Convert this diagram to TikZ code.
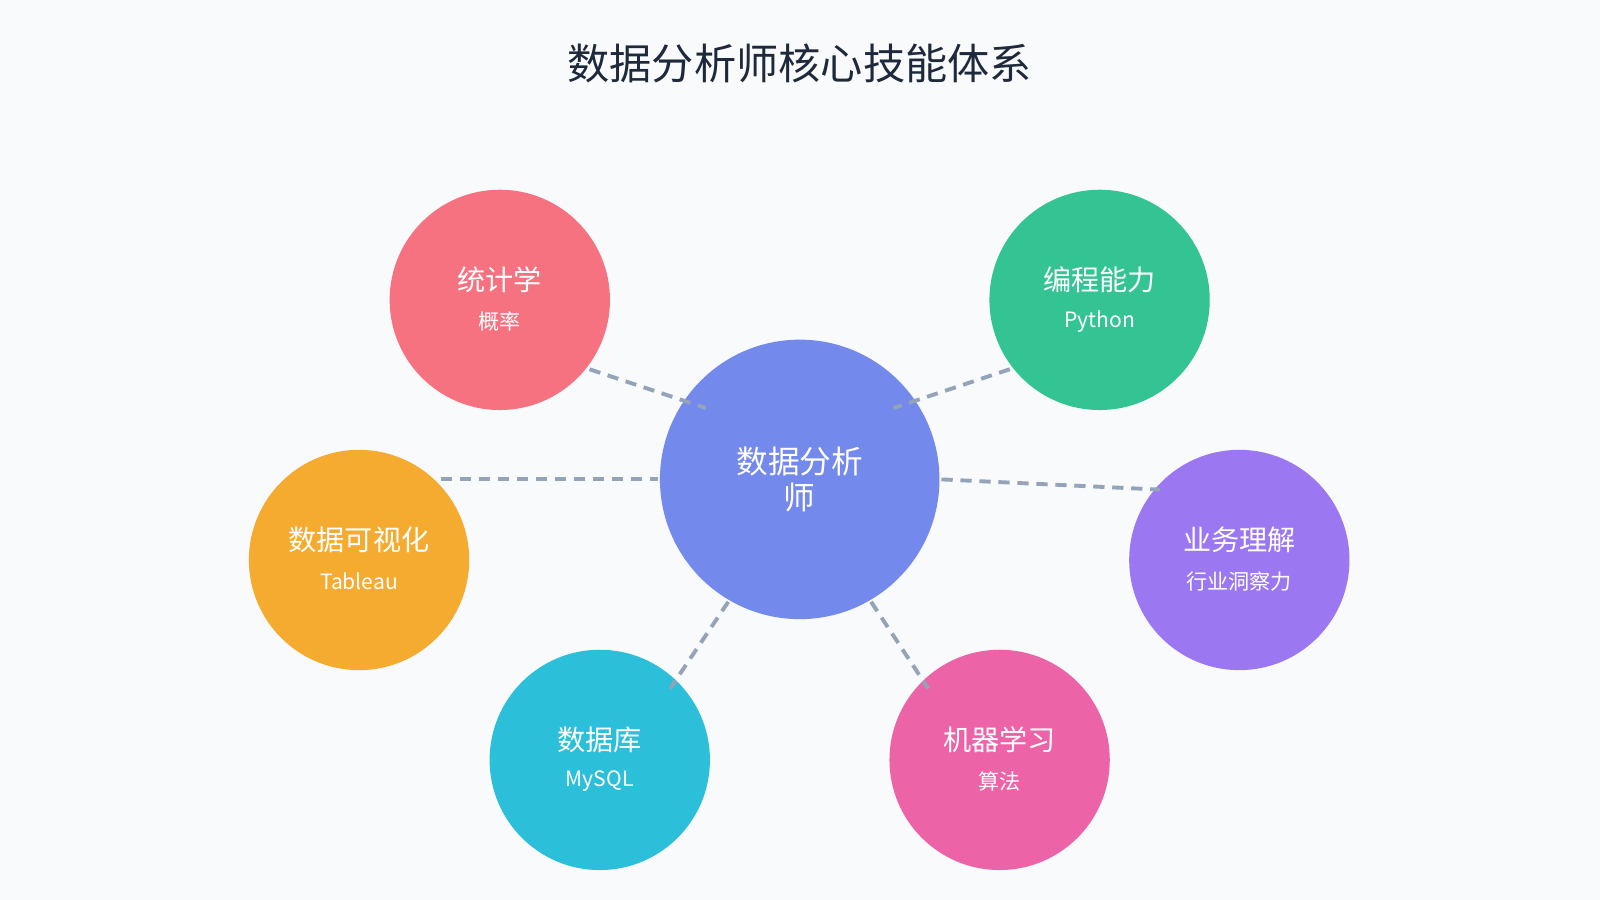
\documentclass[tikz,border=0pt]{standalone}
\usepackage{fontspec}
\setmainfont{Noto Sans CJK SC}
\usetikzlibrary{calc}
\definecolor{bg}{HTML}{F8FAFC}
\definecolor{ttl}{HTML}{1E293B}
\definecolor{cstat}{HTML}{F67280}
\definecolor{cprog}{HTML}{34C493}
\definecolor{cviz}{HTML}{F5AB30}
\definecolor{cbus}{HTML}{9B78F2}
\definecolor{cdb}{HTML}{2BBFD9}
\definecolor{cml}{HTML}{ED63A8}
\definecolor{ccen}{HTML}{7489EC}
\definecolor{lnk}{HTML}{94A3B8}
\begin{document}
\begin{tikzpicture}[x=0.0102cm,y=-0.0102cm,
  skill/.style={circle,minimum size=216*0.0102cm,inner sep=0pt,text=white,align=center},
  link/.style={draw=lnk,line width=1.1pt,dash pattern=on 3.2pt off 2.2pt},
  mainlbl/.style={font=\fontsize{8}{10}\selectfont},
  sublbl/.style={font=\fontsize{6}{8}\selectfont}]
\fill[bg] (0,0) rectangle (1568.6,882.35);
\useasboundingbox (0,0) rectangle (1568.6,882.35);
\node[text=ttl,font=\fontsize{12}{14}\selectfont] (title) at (784,62) {数据分析师核心技能体系};
\node[circle,minimum size=274*0.0102cm,inner sep=0pt,fill=ccen,text=white,align=center,font=\fontsize{9}{11}\selectfont] (c) at (784,470) {数据分析\\[-1pt]师};
\node[skill,fill=cstat] (s) at (490,294) {};
\node[skill,fill=cprog] (p) at (1078,294) {};
\node[skill,fill=cviz] (v) at (352,549) {};
\node[skill,fill=cbus] (b) at (1215,549) {};
\node[skill,fill=cdb] (d) at (588,745) {};
\node[skill,fill=cml] (m) at (980,745) {};
\foreach \n/\t/\u in {s/统计学/概率/假设检验, p/编程能力/Python/SQL, v/数据可视化/Tableau/PowerBI, b/业务理解/行业洞察力, d/数据库/MySQL/Hive, m/机器学习/算法/建模}{
  \node[mainlbl,text=white] (\n t) at ($(\n)+(0,-20)$) {\t};
  \node[sublbl,text=white] (\n u) at ($(\n)+(0,21)$) {\u};
}
\coordinate (s1) at (578,362); \coordinate (c1) at (692,400);
\coordinate (p1) at (990,362); \coordinate (c2) at (876,400);
\coordinate (v1) at (432,470); \coordinate (c3) at (645,470);
\coordinate (b1) at (1137,480); \coordinate (c4) at (923,470);
\coordinate (d1) at (657,675); \coordinate (c5) at (714,590);
\coordinate (m1) at (910,675); \coordinate (c6) at (854,590);
\draw[link] (s1) -- (c1);
\draw[link] (p1) -- (c2);
\draw[link] (v1) -- (c3);
\draw[link] (c4) -- (b1);
\draw[link] (c5) -- (d1);
\draw[link] (c6) -- (m1);
\end{tikzpicture}
\end{document}
